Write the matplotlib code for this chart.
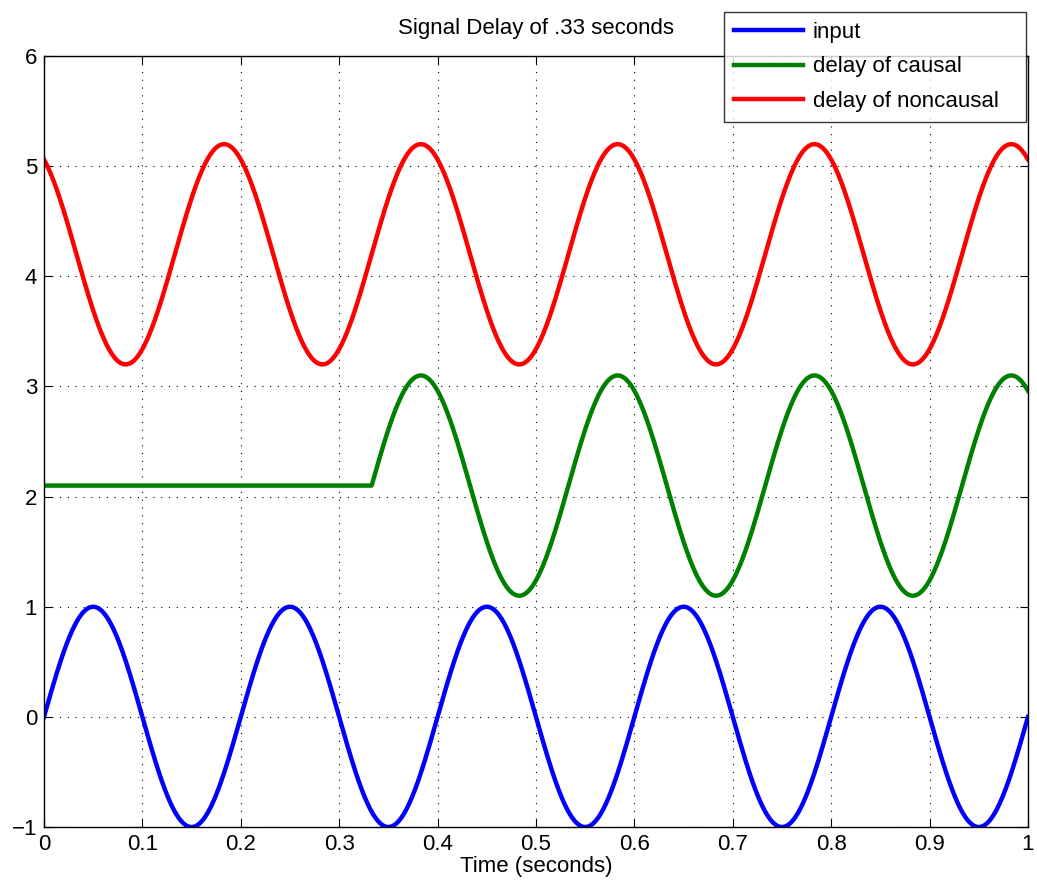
import numpy as np
import matplotlib.pyplot as plt

# signal parameters
freq_hz = 5.0
delay_s = 0.333
causal_offset = 2.1
noncausal_offset = 4.2
fs = 1000

labels = ['input', 'delay of causal', 'delay of noncausal']
colors = ['#0000ff', '#008000', '#ff0000']
xticks = [0, 0.1, 0.2, 0.3, 0.4, 0.5, 0.6, 0.7, 0.8, 0.9, 1]
xticklabels = ['0', '0.1', '0.2', '0.3', '0.4', '0.5', '0.6', '0.7', '0.8', '0.9', '1']
yticks = [-1, 0, 1, 2, 3, 4, 5, 6]
yticklabels = ['\u22121', '0', '1', '2', '3', '4', '5', '6']

t = np.arange(0, 1 + 1 / fs, 1 / fs)
x = np.sin(2 * np.pi * freq_hz * t)
delayed = np.sin(2 * np.pi * freq_hz * (t - delay_s))
causal = causal_offset + np.where(t >= delay_s, delayed, 0.0)
noncausal = noncausal_offset + delayed

plt.rcParams['font.family'] = ['Liberation Sans', 'DejaVu Sans']

fig = plt.figure(figsize=(10.37, 8.89), dpi=100)
ax = fig.add_axes([0.0424, 0.0697, 0.9489, 0.8673])

lines = []
for y, c, lab in zip([x, causal, noncausal], colors, labels):
  l, = ax.plot(t, y, color=c, lw=3.2, label=lab)
  lines.append(l)

ax.set_xlim(0, 1)
ax.set_ylim(-1, 6)
ax.set_xticks(xticks)
ax.set_xticklabels(xticklabels)
ax.set_yticks(yticks)
ax.set_yticklabels(yticklabels)
ax.tick_params(direction='in', labelsize=16, length=6, top=True, right=True, pad=5)
ax.grid(True, color='black', linestyle=(0, (1, 6)), linewidth=0.8)
for s in ax.spines.values():
  s.set_linewidth(1.0)

ax.set_xlabel('Time (seconds)', fontsize=16, labelpad=1)
ax.set_title('Signal Delay of .33 seconds', fontsize=16, pad=16)

# legend box sits across the top edge of the axes, as in the original
leg = fig.legend(handles=lines, loc='upper left', bbox_to_anchor=(0.6982, 0.8865, 0.2912, 0.1),
                 mode='expand', fontsize=16, frameon=True, fancybox=False, handlelength=3.1,
                 borderpad=0.45, labelspacing=0.6, handletextpad=0.45, borderaxespad=0)
leg.get_frame().set_edgecolor('black')
leg.get_frame().set_linewidth(1.0)

fig.savefig('out.png', dpi=100)
